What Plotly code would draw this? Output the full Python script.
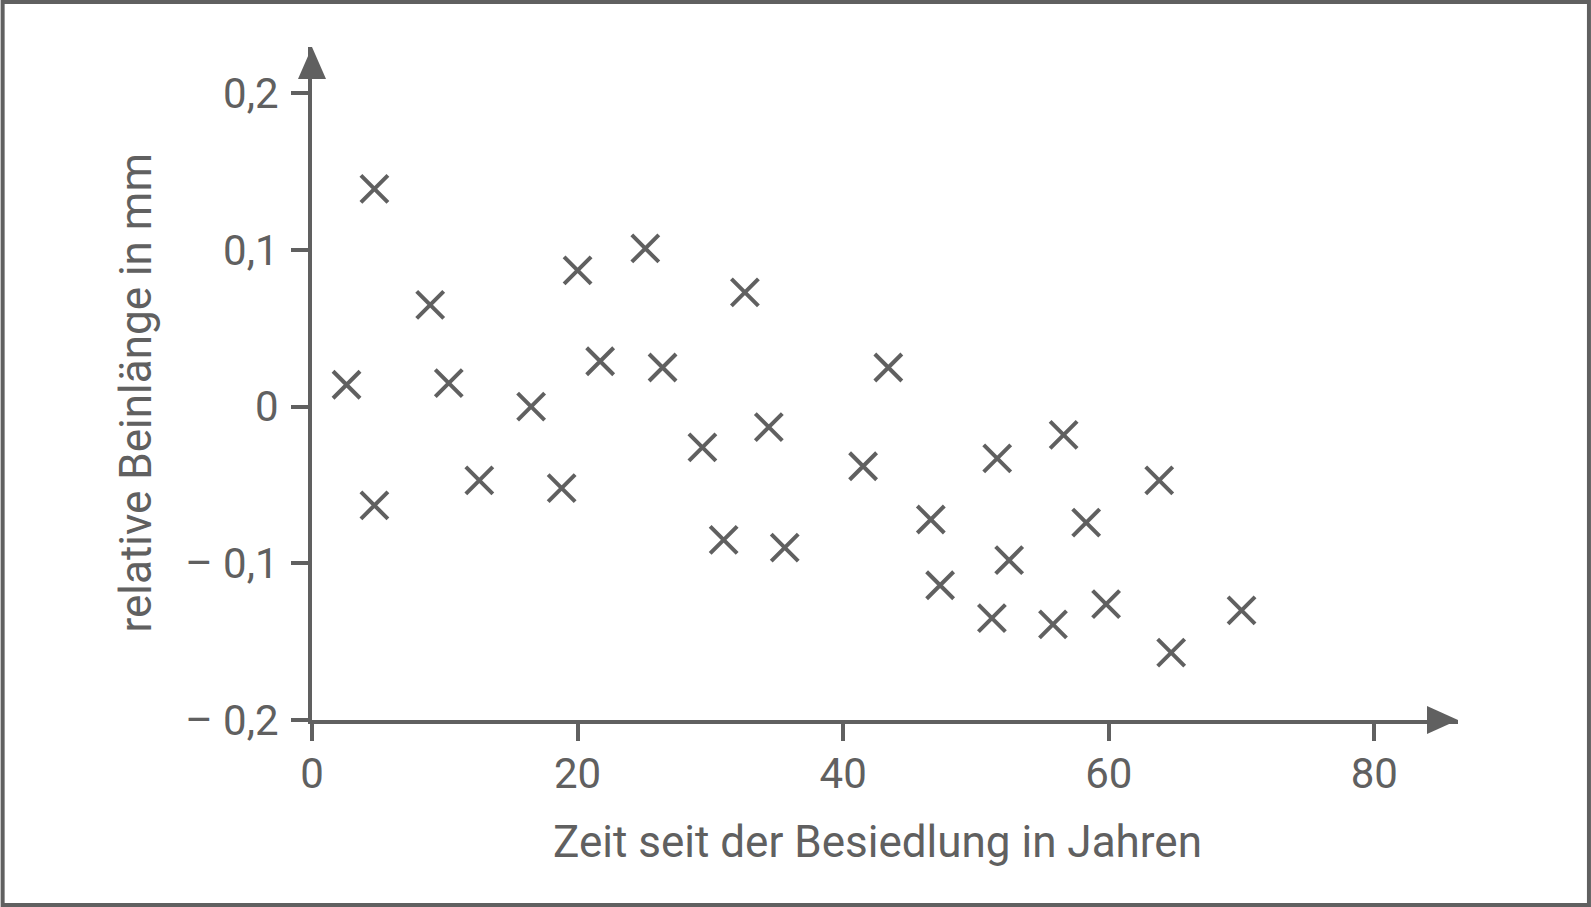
import plotly.graph_objects as go

# Zeit seit der Besiedlung (Jahre) und relative Beinlänge (mm)
zeit = [2.6, 4.7, 4.7, 8.9, 10.3, 12.6, 16.5, 18.8, 20.0, 21.7, 25.1, 26.4,
        29.4, 31.0, 32.6, 34.4, 35.6, 41.5, 43.4, 46.6, 47.3, 51.2, 51.6,
        52.5, 55.8, 56.6, 58.3, 59.8, 63.8, 64.7, 70.0]
beinlaenge = [0.014, 0.139, -0.063, 0.065, 0.015, -0.047, 0.0, -0.052, 0.087,
              0.029, 0.101, 0.025, -0.026, -0.085, 0.073, -0.013, -0.090,
              -0.038, 0.025, -0.072, -0.114, -0.135, -0.033, -0.098, -0.139,
              -0.018, -0.074, -0.126, -0.047, -0.157, -0.130]

x_ticks = [0, 20, 40, 60, 80]
x_ticklabels = ["0", "20", "40", "60", "80"]
y_ticks = [-0.2, -0.1, 0, 0.1, 0.2]
y_ticklabels = ["\u2013 0,2", "\u2013 0,1", "0", "0,1", "0,2"]

grau = "#606060"
W, H = 1591, 907
ml, mr, mt, mb = 311.5, 133, 47, 187
pw, ph = W - ml - mr, H - mt - mb

fig = go.Figure(go.Scatter(
    x=zeit, y=beinlaenge, mode="markers",
    marker=dict(symbol="x-thin", size=27, line=dict(width=4, color=grau), color=grau),
    cliponaxis=False, hoverinfo="skip"
))

achse = dict(showline=True, linewidth=4, linecolor=grau, ticks="outside",
             ticklen=17, tickwidth=4, tickcolor=grau, showgrid=False,
             zeroline=False, fixedrange=True,
             tickfont=dict(family="Roboto", size=42, color=grau))

fig.update_xaxes(range=[0, 86.3], tickvals=x_ticks, ticktext=x_ticklabels,
                 ticklabelstandoff=-3, **achse)
fig.update_yaxes(range=[-0.2, 0.2296], tickvals=y_ticks, ticktext=y_ticklabels,
                 ticklabelstandoff=4, **achse)

# Pfeilspitzen der Achsen
fig.add_shape(type="path", xref="paper", yref="paper", xsizemode="pixel", ysizemode="pixel",
              xanchor=0, yanchor=1, path="M -14,-32 L 0,0 L 14,-32 Z",
              fillcolor=grau, line=dict(width=0), layer="above")
fig.add_shape(type="path", xref="paper", yref="paper", xsizemode="pixel", ysizemode="pixel",
              xanchor=1, yanchor=0, path="M -31,-14 L 0,0 L -31,14 Z",
              fillcolor=grau, line=dict(width=0), layer="above")

# Rahmen um die ganze Grafik
fig.add_shape(type="rect", xref="paper", yref="paper",
              x0=(2 - ml) / pw, x1=(W - 2 - ml) / pw,
              y0=-(mb - 2) / ph, y1=(ph + mt - 2) / ph,
              line=dict(color=grau, width=4), fillcolor="rgba(0,0,0,0)")

fig.add_annotation(text="Zeit seit der Besiedlung in Jahren", xref="paper", yref="paper",
                   x=(877 - ml) / pw, y=(H - mb - 842) / ph, showarrow=False,
                   xanchor="center", yanchor="middle",
                   font=dict(family="Roboto", size=44, color=grau))
fig.add_annotation(text="relative Beinlänge in mm", xref="paper", yref="paper",
                   x=(135 - ml) / pw, y=(H - mb - 393) / ph, showarrow=False,
                   xanchor="center", yanchor="middle",
                   textangle=-90, font=dict(family="Roboto", size=44, color=grau))

fig.update_layout(width=W, height=H, margin=dict(l=ml, r=mr, t=mt, b=mb),
                  paper_bgcolor="white", plot_bgcolor="white", showlegend=False)

fig.write_html("out.html", config={"displayModeBar": False},
               post_script="document.body.style.margin='0';")
